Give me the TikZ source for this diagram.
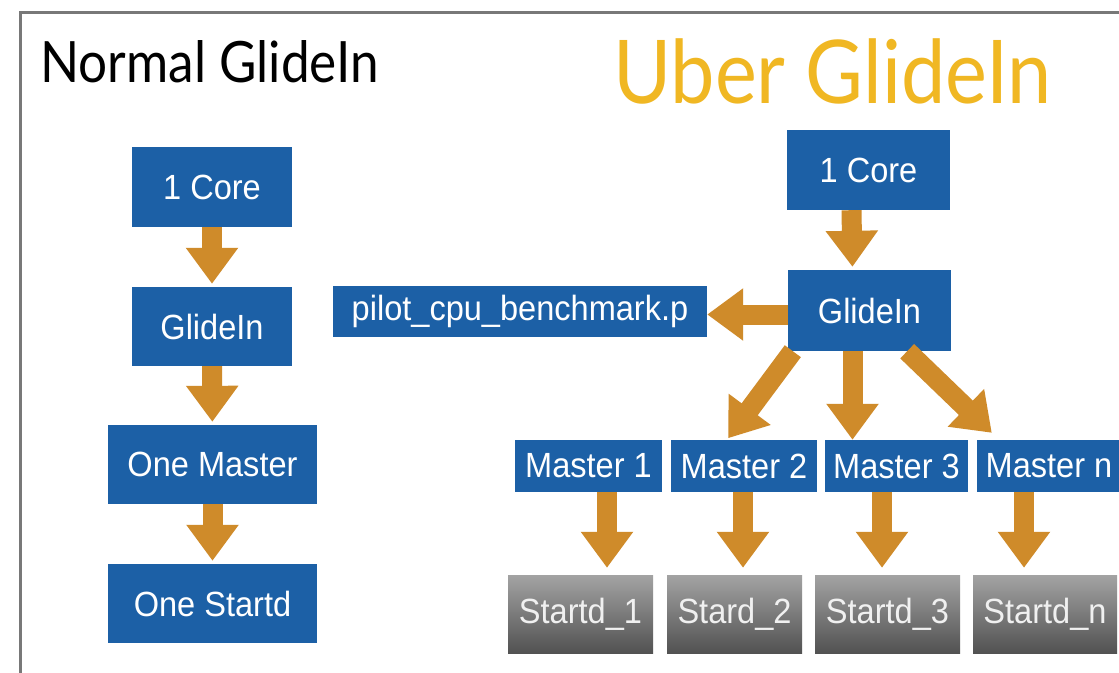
\documentclass[tikz,border=0pt]{standalone}
\usepackage{fontspec}
\usetikzlibrary{arrows.meta}
\newfontfamily\boxfont{Liberation Sans}[FakeStretch=0.93]
\newfontfamily\titlefont{Lato}[FakeStretch=0.9]
\definecolor{boxblue}{RGB}{28,96,166}
\definecolor{arroworange}{RGB}{207,139,42}
\definecolor{titlegold}{RGB}{240,183,35}
\definecolor{framegray}{RGB}{120,120,120}
\begin{document}
\begin{tikzpicture}[x=1pt, y=-1pt,
		bluebox/.style={fill=boxblue, text=white, inner sep=0pt, font=\boxfont\fontsize{35}{40}\selectfont},
		greybox/.style={top color=black!36, bottom color=black!68, text=black!6, inner sep=0pt, font=\boxfont\fontsize{35}{40}\selectfont},
		flow/.style={draw=arroworange, line width=20pt, shorten >=3pt, -{Triangle[width=50pt,length=36pt]}}]
		\clip (0,0) rectangle (1119,672);
		\fill[white] (0,0) rectangle (1119,672);
		\draw[framegray, line width=3pt] (20,12) rectangle (1140,700);
		\node[anchor=base west, inner sep=0pt, font=\titlefont\fontsize{57}{60}\selectfont] (ntitle) at (40,82) {Normal GlideIn};
		\node[anchor=base west, inner sep=0pt, text=titlegold, font=\titlefont\fontsize{88}{92}\selectfont] (utitle) at (613,103) {Uber GlideIn};
		\node[bluebox, minimum width=160pt, minimum height=80pt] (lcore) at (212,187) {1 Core};
		\node[bluebox, minimum width=160pt, minimum height=79pt] (lglide) at (212,326.5) {GlideIn};
		\node[bluebox, minimum width=209pt, minimum height=79pt] (lmaster) at (212.5,464.5) {One Master};
		\node[bluebox, minimum width=209pt, minimum height=79pt] (lstartd) at (212.5,603.5) {One Startd};
		\draw[flow] (lcore) -- (lglide);
		\draw[flow] (lglide) -- (lmaster);
		\draw[flow] (lmaster) -- (lstartd);
		\node[bluebox, minimum width=163pt, minimum height=80pt] (rcore) at (868.5,170) {1 Core};
		\node[bluebox, minimum width=163pt, minimum height=81pt] (rglide) at (869.5,310.5) {GlideIn};
		\node[bluebox, minimum width=374pt, minimum height=51pt] (pilot) at (520,311.5) {pilot\_cpu\_benchmark.p};
		\node[bluebox, minimum width=147pt, minimum height=52pt] (m1) at (588.5,466) {Master 1};
		\node[bluebox, minimum width=146pt, minimum height=52pt] (m2) at (744,466) {Master 2};
		\node[bluebox, minimum width=143pt, minimum height=52pt] (m3) at (896.5,466) {Master 3};
		\node[bluebox, minimum width=144pt, minimum height=52pt] (mn) at (1049,466) {Master n};
		\node[greybox, minimum width=145pt, minimum height=78pt] (s1) at (580.5,614) {Startd\_1};
		\node[greybox, minimum width=135pt, minimum height=78pt] (s2) at (734.5,614) {Stard\_2};
		\node[greybox, minimum width=145pt, minimum height=78pt] (s3) at (887.5,614) {Startd\_3};
		\node[greybox, minimum width=144pt, minimum height=78pt] (sn) at (1045,614) {Startd\_n};
		\draw[flow] ([xshift=-17pt]rcore.south) -- ([xshift=-17pt]rglide.north);
		\draw[flow, shorten >=0pt] ([yshift=-4pt]rglide.west) -- ([yshift=-4pt]rglide.west -| pilot.east);
		\draw[flow, shorten >=2pt] ([xshift=5pt]rglide.south west) -- ([xshift=-17pt]m2.north);
		\draw[flow, shorten >=0pt] ([xshift=-17pt]rglide.south) -- ([xshift=-17pt]rglide.south |- m3.north);
		\draw[flow, shorten >=0pt] ([xshift=-44pt]rglide.south east) -- ([xshift=15pt, yshift=7pt]mn.north west);
		\foreach \i/\d in {1/18.5,2/-1,3/-14.5,n/-25}
			\draw[flow, shorten >=7pt] ([xshift=\d pt]m\i.south) -- ([xshift=\d pt]m\i.south |- s\i.north);
	\end{tikzpicture}
\end{document}
